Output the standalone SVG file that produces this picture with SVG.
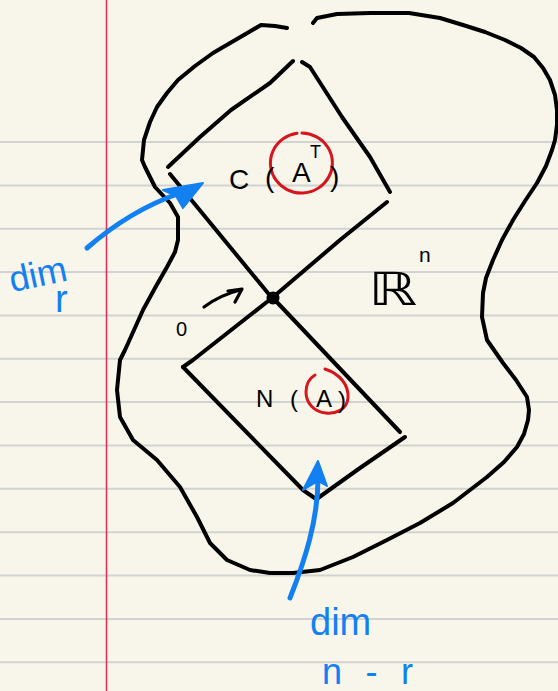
<svg xmlns="http://www.w3.org/2000/svg" width="558" height="691" viewBox="0 0 558 691">
<defs>
<style>
.rule{stroke:#d2d2d0;stroke-width:2}
.ink{fill:none;stroke:#000;stroke-width:4;stroke-linecap:round;stroke-linejoin:round}
.thin{fill:none;stroke:#000;stroke-width:3.2;stroke-linecap:round;stroke-linejoin:round}
.blue{fill:none;stroke:#1380f2;stroke-width:5;stroke-linecap:round;stroke-linejoin:round}
.bluehead{fill:#1380f2;stroke:#1380f2;stroke-width:2;stroke-linejoin:round}
.red{fill:none;stroke:#d8141c;stroke-width:3;stroke-linecap:round}
.lbl{font-family:"Liberation Sans","DejaVu Sans",sans-serif;fill:#000}
.blbl{font-family:"Liberation Sans","DejaVu Sans",sans-serif;fill:#1380f2}
</style>
</defs>
<rect width="558" height="691" fill="#f8f6eb"/>
<g id="paper">
<line class="rule" x1="0" y1="142" x2="558" y2="142"/>
<line class="rule" x1="0" y1="185.4" x2="558" y2="185.4"/>
<line class="rule" x1="0" y1="228.7" x2="558" y2="228.7"/>
<line class="rule" x1="0" y1="272" x2="558" y2="272"/>
<line class="rule" x1="0" y1="315.4" x2="558" y2="315.4"/>
<line class="rule" x1="0" y1="358.8" x2="558" y2="358.8"/>
<line class="rule" x1="0" y1="402.1" x2="558" y2="402.1"/>
<line class="rule" x1="0" y1="445.5" x2="558" y2="445.5"/>
<line class="rule" x1="0" y1="488.8" x2="558" y2="488.8"/>
<line class="rule" x1="0" y1="532.2" x2="558" y2="532.2"/>
<line class="rule" x1="0" y1="575.5" x2="558" y2="575.5"/>
<line class="rule" x1="0" y1="618.9" x2="558" y2="618.9"/>
<line class="rule" x1="0" y1="662.2" x2="558" y2="662.2"/>
<line x1="106.5" y1="0" x2="106.5" y2="691" stroke="#e2294f" stroke-width="1.5"/>
</g>
<g id="space-Rn">
<path class="ink" d="M313,23 L317,18 L337,14 L370,13 L409,13 L440,18 L463,25 L485,32 L505,40 L521,48 L534,57 L543,68 L550,80 L555,95 L557,110 L557,125 L555,140 L552,150 L546,166 L537,183 L525,201 L513,220 L502,240 L493,260 L486,278 L483,293 L482,317 L487,340 L503,363 L516,380 L527,397 L529,410 L528,420 L524,434 L517,447 L504,462 L487,477 L470,490 L453,503 L420,523 L387,540 L353,557 L320,570 L293,573 L270,573 L250,570 L227,560 L210,543 L197,517 L180,487 L157,460 L133,440 L120,417 L117,390 L120,360 L125,350 L134,330 L143,310 L155,288 L167,267 L175,252 L178,240 L178,217 L170,203 L155,187 L145,167 L142,160 L144,140 L150,122 L157,107 L167,93 L178,80 L195,66 L213,53 L249,32 L261,25 L275,26 L287,28"/>
<text class="lbl" x="368" y="305" font-family="DejaVu Sans" font-size="46" textLength="49" lengthAdjust="spacingAndGlyphs">ℝ</text>
<text class="lbl" x="419" y="262" font-family="DejaVu Sans" font-size="21">n</text>
</g>
<g id="row-space-CAT">
<path class="ink" d="M293,61 L270,83 L231,110 L200,137 L168,167"/>
<path class="ink" d="M170,174 L272,298"/>
<path class="ink" d="M302,62 L310,67 L342,117 L370,157 L390,192"/>
<path class="ink" d="M387,202 L340,240 L272,298"/>
<path class="red" d="M302,133 A31,30 0 1 1 297,133.3"/>
<text class="lbl" font-size="28"><tspan x="229" y="189">C</tspan><tspan x="265" y="187">(</tspan><tspan x="292" y="182">A</tspan><tspan x="310" y="158" font-size="18">T</tspan><tspan x="330" y="186">)</tspan></text>
</g>
<g id="null-space-NA">
<path class="ink" d="M272,298 L193,360 L183,367"/>
<path class="ink" d="M183,367 L303,490 L316,499"/>
<path class="ink" d="M273,298 L400,432"/>
<path class="ink" d="M405,437 L360,468 L318,498"/>
<path class="red" d="M325,369 C340,374 349,385 348,398 C347,410 335,414 326,413 C314,412 306,403 306,392 C306,383 310,378 315,375"/>
<text class="lbl" font-size="24"><tspan x="256" y="407">N</tspan><tspan x="290" y="407">(</tspan><tspan x="316" y="407">A</tspan><tspan x="338" y="408">)</tspan></text>
</g>
<g id="origin">
<circle cx="273" cy="298" r="6.5" fill="#000"/>
<text class="lbl" x="176" y="336" font-size="20">0</text>
</g>
<g id="connectors">
<path class="thin" d="M204,307 Q220,295 240,290"/>
<path class="thin" d="M228,291 L242,289 L235,302" fill="#000"/>
<path class="blue" d="M87,248 C110,228 140,207 180,193"/>
<polygon class="bluehead" points="203,183 163,190 176,196 183,208"/>
<path class="blue" d="M290,598 C305,560 318,520 318,478"/>
<polygon class="bluehead" points="318,461 303,490 318,481 327,486"/>
</g>
<g id="labels">
<text class="blbl" x="8" y="286" font-size="36" transform="rotate(-12 40 270)">dim</text>
<text class="blbl" x="55" y="312" font-size="38">r</text>
<text class="blbl" x="310" y="635" font-size="38">dim</text>
<text class="blbl" x="322" y="684" font-size="36" textLength="91" lengthAdjust="spacing">n - r</text>
</g>
</svg>
